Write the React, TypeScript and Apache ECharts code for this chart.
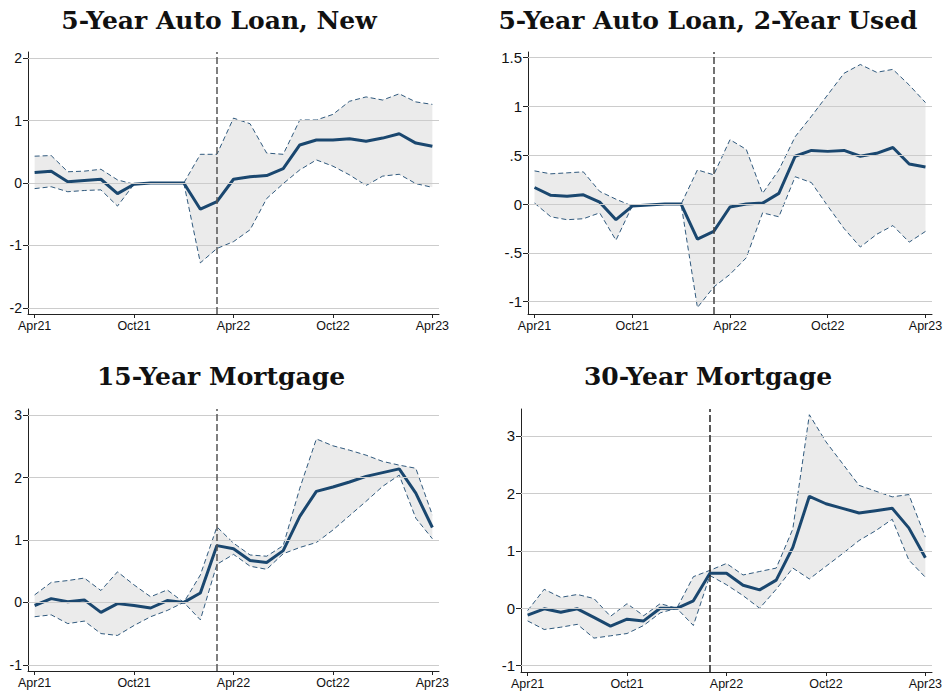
import React, { useEffect, useRef } from "react";
import * as echarts from "echarts";

const xTickIdx = [0, 6, 12, 18, 24];
const xTickLabels = ["Apr21", "Oct21", "Apr22", "Oct22", "Apr23"];
const eventIdx = 11;

const titles = ["5-Year Auto Loan, New", "5-Year Auto Loan, 2-Year Used", "15-Year Mortgage", "30-Year Mortgage"];

const p1Mid = [0.17, 0.19, 0.02, 0.04, 0.06, -0.17, -0.02, 0, 0, 0, -0.42, -0.3, 0.06, 0.1, 0.12, 0.23, 0.61, 0.69, 0.69, 0.71, 0.67, 0.72, 0.79, 0.64, 0.59];
const p1Hi = [0.43, 0.44, 0.18, 0.19, 0.22, 0.05, -0.02, 0, 0, 0, 0.46, 0.46, 1.04, 0.95, 0.48, 0.46, 1.01, 1.01, 1.1, 1.31, 1.38, 1.33, 1.43, 1.3, 1.26];
const p1Lo = [-0.09, -0.06, -0.14, -0.12, -0.11, -0.37, -0.02, 0, 0, 0, -1.28, -1.05, -0.94, -0.75, -0.25, -0.01, 0.21, 0.37, 0.27, 0.13, -0.04, 0.11, 0.14, -0.01, -0.07];

const p2Mid = [0.17, 0.09, 0.08, 0.095, 0.02, -0.16, -0.02, -0.01, 0, 0, -0.36, -0.28, -0.03, 0, 0.01, 0.11, 0.49, 0.55, 0.54, 0.55, 0.49, 0.52, 0.58, 0.41, 0.38];
const p2Hi = [0.34, 0.31, 0.32, 0.33, 0.13, 0.05, -0.02, -0.01, 0, 0, 0.35, 0.3, 0.66, 0.56, 0.11, 0.35, 0.69, 0.9, 1.12, 1.34, 1.43, 1.35, 1.38, 1.22, 1.04];
const p2Lo = [0.01, -0.13, -0.16, -0.15, -0.09, -0.37, -0.02, -0.01, 0, 0, -1.06, -0.85, -0.72, -0.55, -0.09, -0.13, 0.28, 0.22, -0.02, -0.25, -0.44, -0.31, -0.22, -0.39, -0.28];

const p3Mid = [-0.05, 0.06, 0.01, 0.04, -0.16, -0.02, -0.05, -0.09, 0.03, 0, 0.15, 0.91, 0.86, 0.67, 0.64, 0.83, 1.38, 1.78, 1.85, 1.93, 2.02, 2.08, 2.14, 1.75, 1.2];
const p3Hi = [0.12, 0.32, 0.35, 0.39, 0.19, 0.49, 0.28, 0.09, 0.2, 0, 0.44, 1.21, 0.95, 0.76, 0.74, 0.91, 1.83, 2.62, 2.51, 2.44, 2.36, 2.26, 2.2, 2.15, 1.4];
const p3Lo = [-0.23, -0.2, -0.34, -0.3, -0.5, -0.53, -0.37, -0.23, -0.13, 0, -0.28, 0.61, 0.77, 0.58, 0.53, 0.78, 0.88, 0.96, 1.16, 1.39, 1.62, 1.86, 2.04, 1.35, 1.02];

const p4Mid = [-0.12, -0.01, -0.07, -0.01, -0.16, -0.31, -0.19, -0.22, 0, 0, 0.13, 0.61, 0.61, 0.4, 0.32, 0.49, 1.06, 1.95, 1.82, 1.74, 1.66, 1.7, 1.74, 1.4, 0.88];
const p4Hi = [-0.04, 0.33, 0.19, 0.24, 0.17, -0.14, 0.08, -0.13, 0.08, 0, 0.55, 0.66, 0.78, 0.58, 0.64, 0.7, 1.38, 3.37, 2.9, 2.52, 2.14, 2.04, 1.94, 1.98, 1.24];
const p4Lo = [-0.22, -0.37, -0.33, -0.28, -0.52, -0.48, -0.44, -0.3, -0.08, 0, -0.3, 0.57, 0.41, 0.22, 0, 0.33, 0.7, 0.51, 0.73, 0.95, 1.18, 1.35, 1.55, 0.84, 0.54];

const p1YTicks = [-2, -1, 0, 1, 2];
const p1YLabels = ["-2", "-1", "0", "1", "2"];
const p2YTicks = [-1, -0.5, 0, 0.5, 1, 1.5];
const p2YLabels = ["-1", "-.5", "0", ".5", "1", "1.5"];
const p3YTicks = [-1, 0, 1, 2, 3];
const p3YLabels = ["-1", "0", "1", "2", "3"];
const p4YTicks = [-1, 0, 1, 2, 3];
const p4YLabels = ["-1", "0", "1", "2", "3"];

const NAVY = "#1a476f";

export default function App() {
  const ref = useRef<HTMLDivElement>(null);
  useEffect(() => {
    if (!ref.current) return;
    const chart = echarts.init(ref.current, null, { renderer: "svg" });

    const panels = [
      { mid: p1Mid, hi: p1Hi, lo: p1Lo, yt: p1YTicks, yl: p1YLabels, min: -2.1, max: 2.1, grid: { left: 28, top: 52, width: 411, height: 262 }, title: { x: 219, y: 20 }, ylFont: 14, evColor: "#555555" },
      { mid: p2Mid, hi: p2Hi, lo: p2Lo, yt: p2YTicks, yl: p2YLabels, min: -1.126, max: 1.558, grid: { left: 528, top: 52, width: 404, height: 262 }, title: { x: 708, y: 20 }, ylFont: 15, evColor: "#444444" },
      { mid: p3Mid, hi: p3Hi, lo: p3Lo, yt: p3YTicks, yl: p3YLabels, min: -1.1, max: 3.1, grid: { left: 28, top: 409, width: 411, height: 262 }, title: { x: 221, y: 376 }, ylFont: 14, evColor: "#555555" },
      { mid: p4Mid, hi: p4Hi, lo: p4Lo, yt: p4YTicks, yl: p4YLabels, min: -1.11, max: 3.47, grid: { left: 521, top: 409, width: 411, height: 263 }, title: { x: 708, y: 376 }, ylFont: 15, evColor: "#222222" },
    ];

    const grids: any[] = [];
    const xAxes: any[] = [];
    const yAxes: any[] = [];
    const series: any[] = [];
    const graphics: any[] = [];

    panels.forEach((p, i) => {
      grids.push({ ...p.grid, containLabel: false });
      xAxes.push({
        type: "value",
        gridIndex: i,
        min: -0.4,
        max: 24.4,
        axisLine: { show: true, onZero: false, lineStyle: { color: "#222", width: 1 } },
        axisTick: { show: true, customValues: xTickIdx, length: 4, lineStyle: { color: "#222" } },
        axisLabel: {
          customValues: xTickIdx,
          formatter: (v: number) => xTickLabels[xTickIdx.indexOf(Math.round(v))] ?? "",
          fontFamily: "Liberation Sans, Arial, sans-serif",
          fontSize: 12.5,
          color: "#111",
          margin: 5,
        },
        splitLine: { show: false },
      });
      yAxes.push({
        type: "value",
        gridIndex: i,
        min: p.min,
        max: p.max,
        axisLine: { show: true, onZero: false, lineStyle: { color: "#222", width: 1 } },
        axisTick: { show: true, customValues: p.yt, length: 5, lineStyle: { color: "#222" } },
        axisLabel: {
          customValues: p.yt,
          formatter: (v: number) => {
            const k = p.yt.findIndex((t) => Math.abs(t - v) < 1e-6);
            return k >= 0 ? p.yl[k] : "";
          },
          fontFamily: "Liberation Sans, Arial, sans-serif",
          fontSize: p.ylFont,
          color: "#111",
          margin: 6,
        },
        splitLine: { show: false },
      });

      const lo = p.lo.map((v, k) => [k, v]);
      const hi = p.hi.map((v, k) => [k, v]);
      const mid = p.mid.map((v, k) => [k, v]);

      // confidence band polygon
      series.push({
        type: "custom",
        xAxisIndex: i,
        yAxisIndex: i,
        silent: true,
        data: [[0, p.lo[0]]],
        encode: { x: 0, y: 1 },
        renderItem: (params: any, api: any) => {
          if (params.dataIndex !== 0) return null;
          const top = p.hi.map((v, k) => api.coord([k, v]));
          const bot = p.lo.map((v, k) => api.coord([k, v])).reverse();
          return {
            type: "polygon",
            shape: { points: top.concat(bot) },
            style: { fill: "#ebebeb", stroke: "none" },
            silent: true,
          };
        },
        z: 1,
      });
      series.push({
        type: "line",
        xAxisIndex: i,
        yAxisIndex: i,
        data: hi,
        symbol: "none",
        lineStyle: { color: NAVY, width: 0.9, type: [5, 3] },
        silent: true,
        z: 2,
        markLine: {
          silent: true,
          symbol: ["none", "none"],
          label: { show: false },
          lineStyle: { color: "#cccccc", width: 1.2, type: "solid" },
          data: p.yt.map((t) => ({ yAxis: t })),
        },
      });
      series.push({
        type: "line",
        xAxisIndex: i,
        yAxisIndex: i,
        data: lo,
        symbol: "none",
        lineStyle: { color: NAVY, width: 0.9, type: [5, 3] },
        silent: true,
        z: 2,
        markLine: {
          silent: true,
          symbol: ["none", "none"],
          label: { show: false },
          lineStyle: { color: p.evColor, width: 1.5, type: [7, 3] },
          data: [{ xAxis: eventIdx }],
        },
      });
      series.push({
        type: "line",
        xAxisIndex: i,
        yAxisIndex: i,
        data: mid,
        symbol: "none",
        lineStyle: { color: NAVY, width: 3 },
        silent: true,
        z: 3,
      });

      graphics.push({
        type: "text",
        x: p.title.x,
        y: p.title.y,
        style: {
          text: titles[i],
          font: "bold 25px 'DejaVu Serif', serif",
          fill: "#111",
          textAlign: "center",
          textVerticalAlign: "middle",
        },
      });
    });

    chart.setOption({
      animation: false,
      backgroundColor: "#ffffff",
      grid: grids,
      xAxis: xAxes,
      yAxis: yAxes,
      series,
      graphic: graphics,
    });
    return () => chart.dispose();
  }, []);
  return <div ref={ref} style={{ position: "fixed", left: 0, top: 0, width: 946, height: 696 }} />;
}
